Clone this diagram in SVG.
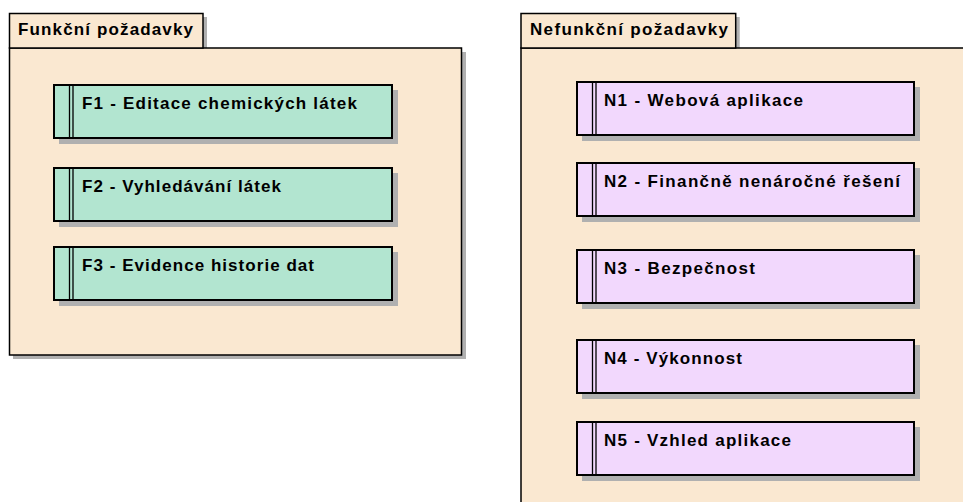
<svg xmlns="http://www.w3.org/2000/svg" width="963" height="502" viewBox="0 0 963 502">
<style>
.pkg{fill:#FAE8D1;stroke:#000;stroke-width:1.5}
.shadow{fill:#B0B0B0}
.f{fill:#B2E5D0;stroke:#000;stroke-width:2}
.n{fill:#F2D8FD;stroke:#000;stroke-width:2}
.bar{stroke:#000;stroke-width:1.3;fill:none}
text{font-family:"Liberation Sans",Arial,sans-serif;font-weight:bold;font-size:17px;fill:#000}
</style>
<rect width="963" height="502" fill="#fff"/>
<g id="pkg-funkcni">
  <rect class="shadow" x="13" y="52" width="453" height="307"/>
  <rect class="shadow" x="203" y="17" width="4" height="31"/>
  <rect class="pkg" x="9.5" y="48" width="452" height="307"/>
  <rect class="pkg" x="9.5" y="13.5" width="193.5" height="34.5"/>
  <text x="18" y="35" textLength="175" lengthAdjust="spacing">Funkční požadavky</text>
</g>
<g id="pkg-nefunkcni">
  <rect class="shadow" x="735.7" y="17" width="4" height="31"/>
  <rect class="pkg" x="521" y="48" width="460" height="470"/>
  <rect class="pkg" x="521" y="13.5" width="214.7" height="34.5"/>
  <text x="530" y="35" textLength="198" lengthAdjust="spacing">Nefunkční požadavky</text>
</g>
<g id="F1">
  <rect class="shadow" x="59" y="90" width="339" height="54"/>
  <rect class="f" x="54" y="85" width="338" height="53"/>
  <path class="bar" d="M69.5 85V138M73 85V138"/>
  <text x="82" y="108.5" textLength="275" lengthAdjust="spacing">F1 - Editace chemických látek</text>
</g>
<g id="F2">
  <rect class="shadow" x="59" y="173" width="339" height="54"/>
  <rect class="f" x="54" y="168" width="338" height="53"/>
  <path class="bar" d="M69.5 168V221M73 168V221"/>
  <text x="82" y="191.5" textLength="199" lengthAdjust="spacing">F2 - Vyhledávání látek</text>
</g>
<g id="F3">
  <rect class="shadow" x="59" y="252" width="339" height="54"/>
  <rect class="f" x="54" y="247" width="338" height="53"/>
  <path class="bar" d="M69.5 247V300M73 247V300"/>
  <text x="82" y="270.5" textLength="232" lengthAdjust="spacing">F3 - Evidence historie dat</text>
</g>
<g id="N1">
  <rect class="shadow" x="582" y="87" width="338" height="54"/>
  <rect class="n" x="577" y="82" width="337" height="53"/>
  <path class="bar" d="M592.5 82V135M596 82V135"/>
  <text x="604" y="105.5" textLength="199" lengthAdjust="spacing">N1 - Webová aplikace</text>
</g>
<g id="N2">
  <rect class="shadow" x="582" y="168" width="338" height="54"/>
  <rect class="n" x="577" y="163" width="337" height="53"/>
  <path class="bar" d="M592.5 163V216M596 163V216"/>
  <text x="604" y="186.5" textLength="296" lengthAdjust="spacing">N2 - Finančně nenáročné řešení</text>
</g>
<g id="N3">
  <rect class="shadow" x="582" y="255" width="338" height="54"/>
  <rect class="n" x="577" y="250" width="337" height="53"/>
  <path class="bar" d="M592.5 250V303M596 250V303"/>
  <text x="604" y="273.5" textLength="151" lengthAdjust="spacing">N3 - Bezpečnost</text>
</g>
<g id="N4">
  <rect class="shadow" x="582" y="345" width="338" height="54"/>
  <rect class="n" x="577" y="340" width="337" height="53"/>
  <path class="bar" d="M592.5 340V393M596 340V393"/>
  <text x="604" y="363.5" textLength="138" lengthAdjust="spacing">N4 - Výkonnost</text>
</g>
<g id="N5">
  <rect class="shadow" x="582" y="427" width="338" height="54"/>
  <rect class="n" x="577" y="422" width="337" height="53"/>
  <path class="bar" d="M592.5 422V475M596 422V475"/>
  <text x="604" y="445.5" textLength="187" lengthAdjust="spacing">N5 - Vzhled aplikace</text>
</g>
<g id="connectors"/>
</svg>
